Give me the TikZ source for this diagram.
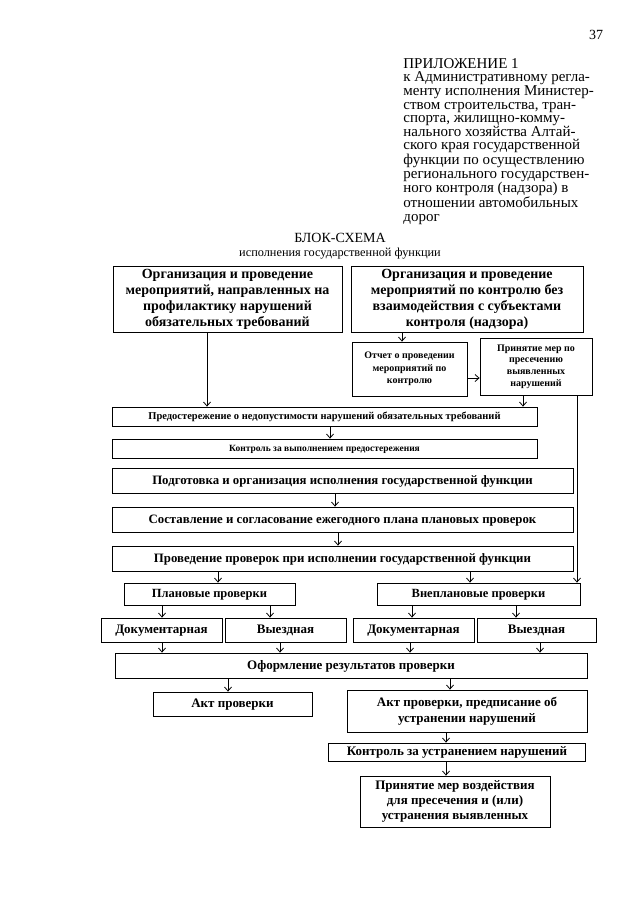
\documentclass[tikz,border=0pt]{standalone}
\usepackage{fontspec}
\setmainfont{Liberation Serif}
\usetikzlibrary{arrows.meta}
\newcommand\fs[2]{\fontsize{#1}{#2}\selectfont}

\tikzset{
    blk/.style={draw,line width=0.8pt,align=center,inner sep=1pt,font=\bfseries},
    one/.style={text height=9pt,text depth=2pt},
    onesmall/.style={text height=7pt,text depth=1.5pt},
}

\begin{document}
\begin{tikzpicture}[x=1pt,y=-1pt,line width=0.8pt,>={Straight Barb[length=4pt,width=7pt]}]
    \useasboundingbox (0,0) rectangle (640,905);

    % page head
    \node[anchor=base] (pg) at (596,39) {\fs{14}{16}37};
    \node[anchor=north west,align=left,inner sep=0pt,font=\fs{15}{13.6}] (appx) at (403,58)
        {ПРИЛОЖЕНИЕ 1\\к Административному регла-\\менту исполнения Министер-\\ством строительства, тран-\\спорта, жилищно-комму-\\нального хозяйства Алтай-\\ского края государственной\\функции по осуществлению\\регионального государствен-\\ного контроля (надзора) в\\отношении автомобильных\\дорог};
    \node[anchor=base,inner sep=0pt] (title) at (340,242) {\fs{14}{16}БЛОК-СХЕМА};
    \node[anchor=base,inner sep=0pt] (subtitle) at (340,256) {\fs{12.3}{14}исполнения государственной функции};

    % top row
    \node[blk,minimum width=229pt,minimum height=66pt,font=\bfseries\fs{14}{16}] (org1) at (227.5,299)
        {Организация и проведение\\мероприятий, направленных на\\профилактику нарушений\\обязательных требований};
    \node[blk,minimum width=232pt,minimum height=66pt,font=\bfseries\fs{14}{16}] (org2) at (467,299)
        {Организация и проведение\\мероприятий по контролю без\\взаимодействия с субъектами\\контроля (надзора)};
    \node[blk,minimum width=115pt,minimum height=54pt,font=\bfseries\fs{10}{12.5}] (report) at (409.5,369)
        {Отчет о проведении\\мероприятий по\\контролю};
    \node[blk,minimum width=112pt,minimum height=57pt,font=\bfseries\fs{10}{11.7}] (measures) at (536,366.5)
        {Принятие мер по\\пресечению\\выявленных\\нарушений};

    % warnings
    \node[blk,onesmall,minimum width=425pt,minimum height=19pt,font=\bfseries\fs{10.5}{12}] (warn) at (324.5,416.5)
        {Предостережение о недопустимости нарушений обязательных требований};
    \node[blk,onesmall,minimum width=425pt,minimum height=19pt,font=\bfseries\fs{9.5}{11}] (warnctl) at (324.5,448.5)
        {Контроль за выполнением предостережения};

    % wide boxes
    \node[blk,one,minimum width=461pt,minimum height=25pt,font=\bfseries\fs{12.8}{14}] (prep) at (342.5,480.5)
        {Подготовка и организация исполнения государственной функции};
    \node[blk,one,minimum width=461pt,minimum height=25pt,font=\bfseries\fs{12.8}{14}] (plan) at (342.5,519.5)
        {Составление и согласование ежегодного плана плановых проверок};
    \node[blk,one,minimum width=461pt,minimum height=25pt,font=\bfseries\fs{12.8}{14}] (insp) at (342.5,558.5)
        {Проведение проверок при исполнении государственной функции};

    % kinds of inspections
    \node[blk,one,minimum width=171pt,minimum height=22pt,font=\bfseries\fs{12.5}{14}] (sched) at (209.5,594) {Плановые проверки};
    \node[blk,one,minimum width=203pt,minimum height=22pt,font=\bfseries\fs{12.5}{14}] (unsched) at (478.5,594) {Внеплановые проверки};
    \node[blk,one,minimum width=121pt,minimum height=24pt,font=\bfseries\fs{13}{15}] (docA) at (161.5,630) {Документарная};
    \node[blk,one,minimum width=121pt,minimum height=24pt,font=\bfseries\fs{13}{15}] (siteA) at (285.5,630) {Выездная};
    \node[blk,one,minimum width=121pt,minimum height=24pt,font=\bfseries\fs{13}{15}] (docB) at (413.5,630) {Документарная};
    \node[blk,one,minimum width=119pt,minimum height=24pt,font=\bfseries\fs{13}{15}] (siteB) at (536.5,630) {Выездная};

    % results
    \node[blk,one,minimum width=472pt,minimum height=25pt,font=\bfseries\fs{13}{15}] (result) at (351,665.5) {Оформление результатов проверки};
    \node[blk,one,minimum width=159pt,minimum height=24pt,font=\bfseries\fs{13}{15}] (act) at (232.5,704) {Акт проверки};
    \node[blk,minimum width=240pt,minimum height=42pt,font=\bfseries\fs{13}{16}] (actord) at (467,711)
        {Акт проверки, предписание об\\устранении нарушений};
    \node[blk,one,minimum width=257pt,minimum height=18pt,font=\bfseries\fs{13}{15}] (fixctl) at (457,752) {Контроль за устранением нарушений};
    \node[blk,minimum width=190pt,minimum height=51pt,font=\bfseries\fs{13}{15}] (sanct) at (455,801.5)
        {Принятие мер воздействия\\для пресечения и (или)\\устранения выявленных};

    % connectors
    \draw[->] (org1.south -| 207,0) -- (warn.north -| 207,0);
    \draw[->] (org2.south -| 402,0) -- (report.north -| 402,0);
    \draw[->] (report.east |- 0,378) -- (measures.west |- 0,378);
    \draw[->] (measures.south -| 523,0) -- (warn.north -| 523,0);
    \draw[->] (measures.south -| 577,0) -- (unsched.north -| 577,0);
    \foreach \a/\b/\x in {warn/warnctl/330, prep/plan/335, plan/insp/338, insp/sched/218, insp/unsched/470,
        sched/docA/162, sched/siteA/270, unsched/docB/412, unsched/siteB/516,
        docA/result/162, siteA/result/280, docB/result/410, siteB/result/540,
        result/act/228, result/actord/450, actord/fixctl/446, fixctl/sanct/446}
        \draw[->] (\a.south -| \x,0) -- (\b.north -| \x,0);

\end{tikzpicture}
\end{document}
